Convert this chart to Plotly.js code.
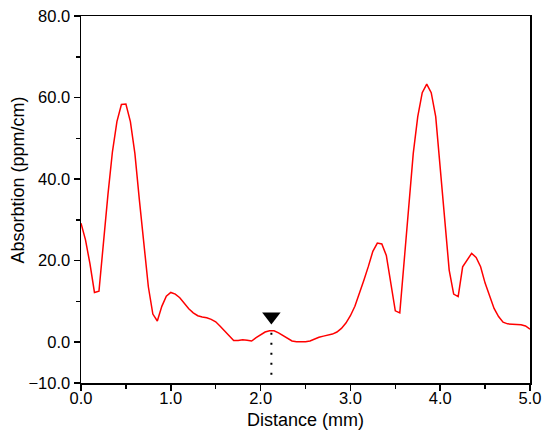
<!DOCTYPE html>
<html>
<head>
<meta charset="utf-8">
<script src="https://cdn.plot.ly/plotly-3.0.1.min.js"></script>
<style>html,body{margin:0;padding:0;background:#fff;}#chart{width:550px;height:437px;}</style>
</head>
<body>
<div id="chart"></div>
<script>
// Distance (mm), sampled every 0.05 mm
const distance = [
  0.00,0.05,0.10,0.15,0.20,0.25,0.30,0.35,0.40,0.45,
  0.50,0.55,0.60,0.65,0.70,0.75,0.80,0.85,0.90,0.95,
  1.00,1.05,1.10,1.15,1.20,1.25,1.30,1.35,1.40,1.45,
  1.50,1.55,1.60,1.65,1.70,1.75,1.80,1.85,1.90,1.95,
  2.00,2.05,2.10,2.15,2.20,2.25,2.30,2.35,2.40,2.45,
  2.50,2.55,2.60,2.65,2.70,2.75,2.80,2.85,2.90,2.95,
  3.00,3.05,3.10,3.15,3.20,3.25,3.30,3.35,3.40,3.45,
  3.50,3.55,3.60,3.65,3.70,3.75,3.80,3.85,3.90,3.95,
  4.00,4.05,4.10,4.15,4.20,4.25,4.30,4.35,4.40,4.45,
  4.50,4.55,4.60,4.65,4.70,4.75,4.80,4.85,4.90,4.95,
  5.00
];
// Absorption (ppm/cm)
const absorption = [
  29.2,25.1,19.2,12.2,12.5,24.8,36.2,46.7,54.1,58.3,
  58.4,54.1,46.3,34.9,23.4,13.6,6.9,5.2,8.8,11.3,
  12.2,11.8,10.9,9.6,8.2,7.2,6.5,6.2,6.0,5.6,
  5.0,3.9,2.7,1.4,0.4,0.4,0.6,0.5,0.3,1.1,
  1.9,2.5,2.8,2.8,2.3,1.7,0.9,0.3,0.1,0.1,
  0.1,0.3,0.8,1.2,1.5,1.7,2.0,2.5,3.4,4.7,
  6.5,8.8,11.8,15.2,18.6,22.3,24.3,24.1,21.3,14.9,
  7.7,7.2,21.0,34.1,46.3,55.3,61.2,63.3,61.2,55.3,
  43.0,30.0,17.7,11.8,11.2,18.5,20.2,21.8,20.8,18.5,
  14.5,11.2,8.3,6.3,4.9,4.5,4.4,4.4,4.3,4.0,
  3.2
];
// Marked point (triangle) and its dotted drop line
const markerX = [2.12];
const markerY = [6.3];
const dropX = [2.12, 2.12];
const dropY = [2.3, -8.2];

const yTickVals = [-10, 0, 20, 40, 60, 80];
const xTickVals = [0, 1, 2, 3, 4, 5];
const xTitle = 'Distance (mm)';
const yTitle = 'Absorbtion (ppm/cm)';

const font = "'Liberation Sans', Arial, Helvetica, sans-serif";

const traces = [
  {
    x: distance, y: absorption, type: 'scatter', mode: 'lines',
    line: {color: '#ff0000', width: 1.5}, hoverinfo: 'skip'
  },
  {
    x: dropX, y: dropY, type: 'scatter', mode: 'lines',
    line: {color: '#000000', width: 2, dash: '2px,8px'}, hoverinfo: 'skip'
  },
  {
    x: markerX, y: markerY, type: 'scatter', mode: 'markers',
    marker: {symbol: 'triangle-down', size: 16, color: '#000000'}, hoverinfo: 'skip'
  }
];

const layout = {
  width: 550, height: 437,
  margin: {l: 81, r: 20, t: 16, b: 54},
  paper_bgcolor: '#ffffff', plot_bgcolor: '#ffffff',
  showlegend: false,
  font: {family: font, size: 17, color: '#000000'},
  xaxis: {
    range: [0, 5], tickvals: xTickVals, tickformat: '.1f',
    ticks: 'outside', ticklen: 6, tickwidth: 1.5, tickcolor: '#000',
    ticklabelstandoff: -6,
    showline: true, linecolor: '#000', linewidth: 1.5, mirror: true,
    showgrid: false, zeroline: false,
    minor: {dtick: 0.5, tick0: 0, ticks: 'outside', ticklen: 4, tickwidth: 1.5, tickcolor: '#000', showgrid: false},
    tickfont: {family: font, size: 16.5, color: '#000'}
  },
  yaxis: {
    range: [-10, 80], tickvals: yTickVals, tickformat: '.1f',
    ticks: 'outside', ticklen: 6, tickwidth: 1.5, tickcolor: '#000',
    showline: true, linecolor: '#000', linewidth: 1.5, mirror: true,
    showgrid: false, zeroline: false,
    minor: {dtick: 10, tick0: 0, ticks: 'outside', ticklen: 4, tickwidth: 1.5, tickcolor: '#000', showgrid: false},
    tickfont: {family: font, size: 16.5, color: '#000'}
  },
  annotations: [
    {
      text: xTitle, xref: 'paper', yref: 'paper',
      x: (305 - 81) / 449, y: (383 - 420) / 367,
      xanchor: 'center', yanchor: 'middle', showarrow: false,
      font: {family: font, size: 18, color: '#000'}
    },
    {
      text: yTitle, xref: 'paper', yref: 'paper', textangle: -90,
      x: (17.5 - 81) / 449, y: (383 - 180) / 367,
      xanchor: 'center', yanchor: 'middle', showarrow: false,
      font: {family: font, size: 18, color: '#000'}
    }
  ]
};

Plotly.newPlot('chart', traces, layout, {displayModeBar: false, staticPlot: true});
</script>
</body>
</html>
